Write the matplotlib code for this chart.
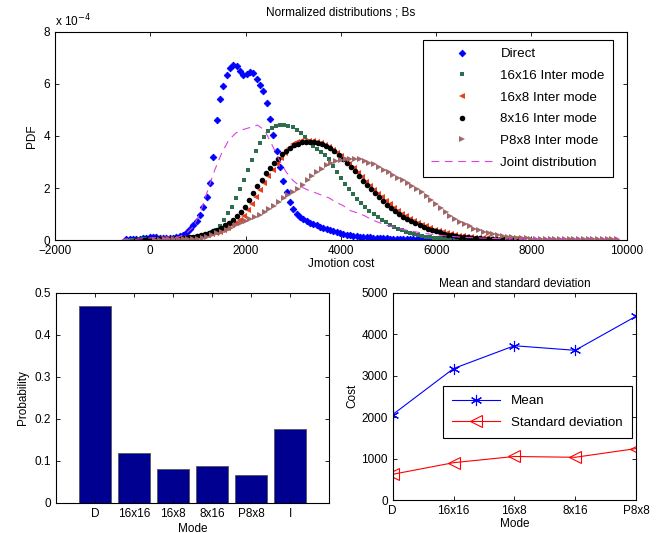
import numpy as np
import matplotlib
matplotlib.use("Agg")
import matplotlib.pyplot as plt

plt.rcParams['font.family'] = ['Liberation Sans', 'DejaVu Sans']
plt.rcParams['font.size'] = 8.5

# PDF values in units of 1e-4, histogram bins with uniform spacing
direct_start, direct_step = -500, 70
direct = [0.02, 0.03, 0.03, 0.04, 0.05, 0.06, 0.08, 0.10, 0.12, 0.10,
          0.09, 0.07, 0.06, 0.06, 0.08, 0.10, 0.14, 0.20, 0.30, 0.42,
          0.58, 0.75, 0.98, 1.28, 1.65, 2.18, 3.20, 4.60, 5.42, 5.92,
          6.36, 6.62, 6.74, 6.68, 6.50, 6.33, 6.38, 6.46, 6.41, 6.20,
          5.98, 5.74, 5.28, 4.66, 4.05, 3.42, 2.80, 2.28, 1.85, 1.45,
          1.18, 1.00, 0.90, 0.80, 0.72, 0.67, 0.62, 0.57, 0.51, 0.46,
          0.41, 0.37, 0.33, 0.30, 0.27, 0.24, 0.21, 0.19, 0.17, 0.15,
          0.13, 0.12, 0.11, 0.10, 0.09, 0.08, 0.07, 0.06, 0.06, 0.05,
          0.05, 0.04, 0.04, 0.04, 0.03, 0.03, 0.03, 0.03, 0.02, 0.02,
          0.02, 0.02, 0.02, 0.02, 0.02, 0.01, 0.01, 0.01, 0.01, 0.01, 0.01]

inter16x16_start, inter16x16_step = -500, 85
inter16x16 = [0.01, 0.01, 0.01, 0.02, 0.02, 0.03, 0.04, 0.04, 0.04, 0.04,
              0.04, 0.05, 0.05, 0.06, 0.07, 0.08, 0.10, 0.12, 0.15, 0.19,
              0.24, 0.30, 0.38, 0.53, 0.76, 1.02, 1.28, 1.60, 1.96, 2.30,
              2.70, 3.08, 3.41, 3.72, 3.98, 4.18, 4.32, 4.40, 4.43, 4.42,
              4.39, 4.33, 4.24, 4.12, 3.97, 3.80, 3.62, 3.50, 3.40, 3.27,
              3.10, 2.85, 2.60, 2.37, 2.15, 1.95, 1.76, 1.58, 1.41, 1.27,
              1.13, 1.00, 0.88, 0.78, 0.68, 0.59, 0.50, 0.43, 0.37, 0.31,
              0.26, 0.22, 0.18, 0.15, 0.13, 0.11, 0.09, 0.08, 0.07, 0.06,
              0.05, 0.04, 0.04, 0.03, 0.03]

inter16x8_start, inter16x8_step = 100, 85
inter16x8 = [0.01, 0.02, 0.02, 0.03, 0.03, 0.04, 0.05, 0.06, 0.07, 0.08,
             0.10, 0.12, 0.15, 0.18, 0.22, 0.27, 0.32, 0.39, 0.47, 0.56,
             0.66, 0.76, 0.92, 1.14, 1.40, 1.67, 1.94, 2.20, 2.45, 2.70,
             2.93, 3.15, 3.36, 3.55, 3.68, 3.76, 3.80, 3.82, 3.82, 3.80,
             3.77, 3.72, 3.66, 3.58, 3.48, 3.36, 3.22, 3.07, 2.91, 2.75,
             2.58, 2.41, 2.25, 2.09, 1.93, 1.78, 1.64, 1.50, 1.37, 1.24,
             1.12, 1.01, 0.91, 0.82, 0.74, 0.66, 0.59, 0.52, 0.46, 0.40,
             0.35, 0.31, 0.27, 0.23, 0.20, 0.17, 0.15, 0.13, 0.11, 0.09,
             0.08, 0.07, 0.06, 0.05, 0.04, 0.04, 0.03, 0.03, 0.02, 0.02]

inter8x16_start, inter8x16_step = -300, 85
inter8x16 = [0.01, 0.01, 0.01, 0.02, 0.02, 0.03, 0.03, 0.04, 0.04, 0.05,
             0.06, 0.07, 0.08, 0.10, 0.12, 0.15, 0.19, 0.23, 0.28, 0.33,
             0.39, 0.46, 0.56, 0.66, 0.78, 0.93, 1.09, 1.28, 1.55, 1.80,
             2.07, 2.32, 2.56, 2.78, 2.96, 3.13, 3.30, 3.43, 3.55, 3.64,
             3.71, 3.75, 3.77, 3.78, 3.78, 3.74, 3.68, 3.61, 3.53, 3.41,
             3.28, 3.13, 2.97, 2.81, 2.65, 2.47, 2.28, 2.12, 1.96, 1.80,
             1.64, 1.50, 1.36, 1.22, 1.10, 0.99, 0.89, 0.80, 0.72, 0.64,
             0.57, 0.50, 0.44, 0.39, 0.34, 0.29, 0.25, 0.21, 0.18, 0.15,
             0.13, 0.11, 0.10, 0.08, 0.07, 0.06, 0.05, 0.05, 0.04, 0.04,
             0.03, 0.03, 0.03, 0.02, 0.02, 0.02]

p8x8_start, p8x8_step = 100, 100
p8x8 = [0.01, 0.01, 0.02, 0.02, 0.02, 0.03, 0.03, 0.04, 0.04, 0.05,
        0.07, 0.12, 0.19, 0.26, 0.32, 0.40, 0.47, 0.56, 0.66, 0.74,
        0.80, 0.87, 0.97, 1.06, 1.18, 1.32, 1.46, 1.60, 1.73, 1.86,
        1.98, 2.12, 2.30, 2.45, 2.60, 2.74, 2.88, 2.98, 3.05, 3.09,
        3.11, 3.12, 3.12, 3.10, 3.05, 2.98, 2.91, 2.82, 2.71, 2.60,
        2.50, 2.40, 2.30, 2.19, 2.08, 1.96, 1.84, 1.70, 1.55, 1.38,
        1.23, 1.07, 0.93, 0.81, 0.70, 0.60, 0.52, 0.44, 0.37, 0.31,
        0.26, 0.22, 0.18, 0.15, 0.12, 0.10, 0.09, 0.07, 0.06, 0.05,
        0.05, 0.04, 0.04, 0.04, 0.03, 0.03, 0.03, 0.03, 0.02, 0.02,
        0.02, 0.02, 0.02, 0.02, 0.02, 0.02, 0.02, 0.02]

joint_start, joint_step = -600, 150
joint = [0.01, 0.02, 0.03, 0.05, 0.08, 0.09, 0.07, 0.07, 0.12, 0.25,
         0.50, 1.05, 1.88, 2.68, 3.35, 3.85, 4.12, 4.25, 4.33, 4.42,
         4.22, 3.68, 3.10, 2.62, 2.28, 2.06, 1.93, 1.83, 1.72, 1.62,
         1.45, 1.32, 1.13, 1.04, 0.93, 0.78, 0.67, 0.57, 0.50, 0.43,
         0.37, 0.32, 0.27, 0.23, 0.20, 0.17, 0.14, 0.12, 0.10, 0.09,
         0.08, 0.07, 0.06, 0.05, 0.04, 0.04, 0.03, 0.03, 0.03, 0.02,
         0.02, 0.02, 0.02, 0.01, 0.01, 0.01, 0.01, 0.01, 0.01, 0.01, 0.00]

modes = ['D', '16x16', '16x8', '8x16', 'P8x8', 'I']
probability = [0.468, 0.118, 0.082, 0.088, 0.066, 0.176]

stat_modes = ['D', '16x16', '16x8', '8x16', 'P8x8']
mean_cost = [2060, 3170, 3720, 3610, 4430]
std_cost = [620, 900, 1050, 1030, 1240]

# matlab style asterisk marker
asterisk = (6, 2, 0)


def bins(start, step, vals):
    return start + step * np.arange(len(vals))


def matlab_axes(ax):
    ax.tick_params(direction='in', top=True, right=True, length=3, width=0.6)
    for s in ax.spines.values():
        s.set_linewidth(0.8)


fig = plt.figure(figsize=(6.57, 5.33), dpi=100)

# top: normalized distributions
ax = fig.add_axes([0.0837, 0.5497, 0.8703, 0.3903])
ax.plot(bins(direct_start, direct_step, direct), direct, 'D', color='#0000ff',
        ms=3.4, mew=0.6, label='Direct')
ax.plot(bins(inter16x16_start, inter16x16_step, inter16x16), inter16x16, 's',
        color='#2e6e4e', ms=3.0, mew=0, label='16x16 Inter mode')
ax.plot(bins(inter16x8_start, inter16x8_step, inter16x8), inter16x8, '<',
        color='#e8401a', ms=4.0, mew=0, label='16x8 Inter mode')
ax.plot(bins(inter8x16_start, inter8x16_step, inter8x16), inter8x16, 'o',
        color='black', ms=4.0, mew=0, label='8x16 Inter mode')
ax.plot(bins(p8x8_start, p8x8_step, p8x8), p8x8, '>',
        color='#a06868', ms=4.0, mew=0, label='P8x8 Inter mode')
ax.plot(bins(joint_start, joint_step, joint), joint, '--', color='#e040e0',
        lw=0.8, dashes=(7, 5), label='Joint distribution')
ax.set_xlim(-2000, 10000)
ax.set_ylim(0, 8)
ax.set_xticks(range(-2000, 10001, 2000))
ax.set_yticks(range(0, 9, 2))
matlab_axes(ax)
ax.set_title('Normalized distributions ; Bs', fontsize=8.5, pad=12)
ax.text(0.0, 1.012, 'x 10$^{-4}$', transform=ax.transAxes, fontsize=8.5,
        ha='left', va='bottom')
ax.set_xlabel('Jmotion cost', labelpad=1)
ax.set_ylabel('PDF', labelpad=4)
leg = ax.legend(loc='upper right', fontsize=9.6, fancybox=False, framealpha=1,
                edgecolor='black', handlelength=4.6, handletextpad=0.6,
                borderpad=0.6, labelspacing=0.7, borderaxespad=0,
                bbox_to_anchor=(0.9755, 0.962))
leg.get_frame().set_linewidth(0.8)

# bottom left: mode probabilities
ax2 = fig.add_axes([0.0852, 0.0563, 0.4156, 0.394])
pos = np.arange(1, len(modes) + 1)
ax2.bar(pos, probability, width=0.8, color='#000090', edgecolor='#555555',
        linewidth=0.6)
ax2.set_xlim(0, len(modes) + 1)
ax2.set_ylim(0, 0.5)
ax2.set_xticks(pos)
ax2.set_xticklabels(modes)
ax2.set_yticks(np.arange(0, 0.51, 0.1))
ax2.set_yticklabels(['0', '0.1', '0.2', '0.3', '0.4', '0.5'])
matlab_axes(ax2)
ax2.set_xlabel('Mode', labelpad=2)
ax2.set_ylabel('Probability', labelpad=4)

# bottom right: mean and standard deviation
ax3 = fig.add_axes([0.5977, 0.0619, 0.3703, 0.3890])
spos = np.arange(1, len(stat_modes) + 1)
ax3.plot(spos, mean_cost, '-', marker=asterisk, color='#0000ff', lw=0.8,
         ms=8, mew=0.8, label='Mean')
ax3.plot(spos, std_cost, '-<', color='#ff0000', lw=0.8, ms=8, mew=0.8,
         mfc='none', label='Standard deviation')
ax3.set_xlim(1, len(stat_modes))
ax3.set_ylim(0, 5000)
ax3.set_xticks(spos)
ax3.set_xticklabels(stat_modes)
ax3.set_yticks(range(0, 5001, 1000))
matlab_axes(ax3)
ax3.set_title('Mean and standard deviation', fontsize=8.5, pad=4)
ax3.set_xlabel('Mode', labelpad=1)
ax3.set_ylabel('Cost', labelpad=2)
leg3 = ax3.legend(loc='upper left', fontsize=9.6, fancybox=False,
                  framealpha=1, edgecolor='black', handlelength=3.6,
                  borderpad=0.7, labelspacing=0.7, borderaxespad=0,
                  bbox_to_anchor=(0.206, 0.551))
leg3.get_frame().set_linewidth(0.8)

fig.savefig('out.png', dpi=100)
